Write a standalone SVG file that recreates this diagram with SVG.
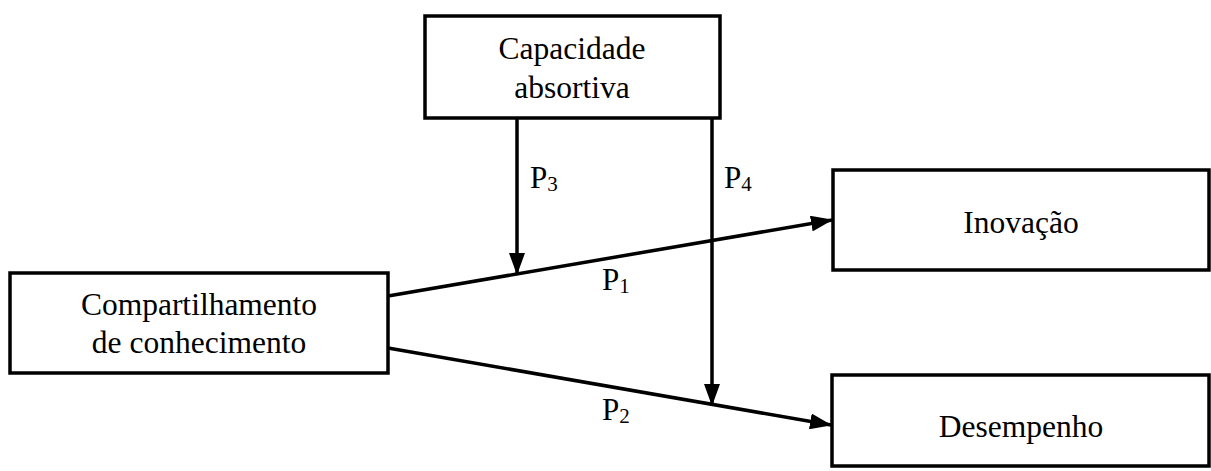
<svg xmlns="http://www.w3.org/2000/svg" width="1211" height="471" viewBox="0 0 1211 471">
<style>
.box{fill:#fff;stroke:#000;stroke-width:3.5}
.t{font-family:"Liberation Serif","Times New Roman",serif;font-size:31.5px;fill:#000;text-anchor:middle}
.p{font-family:"Liberation Serif","Times New Roman",serif;font-size:31px;fill:#000}
.s{font-size:21px}
.c{stroke:#000;stroke-width:3.5;fill:none}
</style>
<defs>
<marker id="ah" markerUnits="userSpaceOnUse" markerWidth="22" markerHeight="16" viewBox="0 0 22 16" refX="21" refY="8" orient="auto">
<path d="M0,0 L22,8 L0,16 Z" fill="#000"/>
</marker>
</defs>
<rect width="1211" height="471" fill="#fff"/>
<g id="connectors">
<line class="c" x1="388" y1="296" x2="832" y2="220" marker-end="url(#ah)"/>
<line class="c" x1="388" y1="348" x2="831" y2="425" marker-end="url(#ah)"/>
<line class="c" x1="517" y1="118" x2="517" y2="274" marker-end="url(#ah)"/>
<line class="c" x1="712" y1="118" x2="712" y2="405" marker-end="url(#ah)"/>
<text class="p" x="530" y="188">P<tspan class="s" dy="3">3</tspan></text>
<text class="p" x="724" y="188">P<tspan class="s" dy="3">4</tspan></text>
<text class="p" x="602" y="290">P<tspan class="s" dy="3">1</tspan></text>
<text class="p" x="602" y="420">P<tspan class="s" dy="3">2</tspan></text>
</g>
<g id="capacidade">
<rect class="box" x="425" y="16" width="295" height="102"/>
<text class="t" x="572" y="59">Capacidade</text>
<text class="t" x="572" y="98">absortiva</text>
</g>
<g id="compartilhamento">
<rect class="box" x="10" y="273" width="378" height="100"/>
<text class="t" x="199" y="315">Compartilhamento</text>
<text class="t" x="199" y="353">de conhecimento</text>
</g>
<g id="inovacao">
<rect class="box" x="833" y="170" width="376" height="100"/>
<text class="t" x="1021" y="233">Inovação</text>
</g>
<g id="desempenho">
<rect class="box" x="832" y="375" width="377" height="91"/>
<text class="t" x="1021" y="437">Desempenho</text>
</g>
</svg>
